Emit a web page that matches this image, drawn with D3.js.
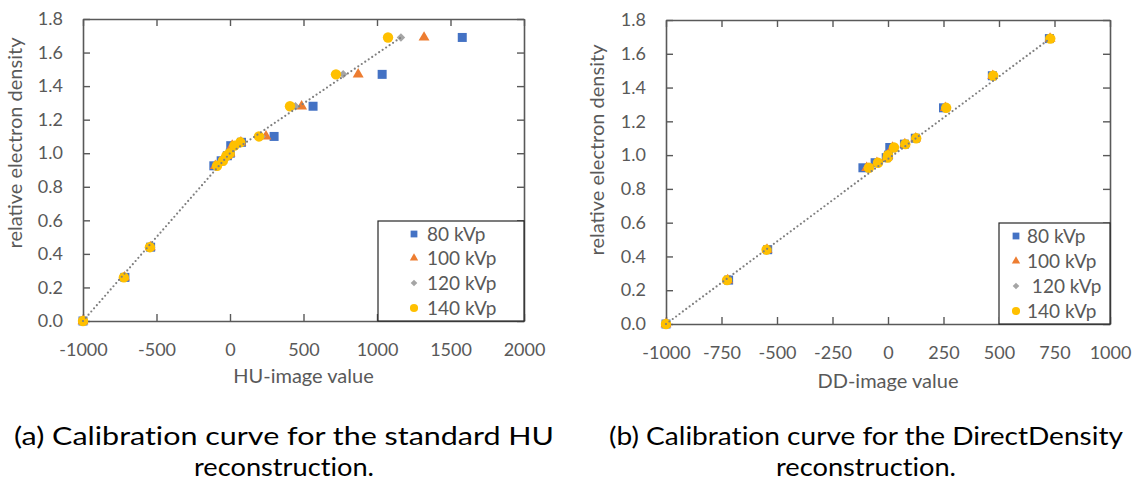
<!DOCTYPE html>
<html>
<head>
<meta charset="utf-8">
<script src="https://cdn.jsdelivr.net/npm/d3@7"></script>
<style>
  body { margin: 0; background: #fff; }
  text { font-family: Lato, "Open Sans", sans-serif; }
</style>
</head>
<body>
<div id="wrapper"></div>
<script>
// relative electron density of each phantom insert (y values, shared by both charts)
const densities = [0.0, 0.26, 0.44, 0.925, 0.955, 0.985, 1.0, 1.045, 1.065, 1.10, 1.28, 1.47, 1.69];

// HU-image values per tube voltage
const hu80 = [-1000, -715, -540, -110, -60, -18, 2, 5, 78, 300, 565, 1035, 1580];
const hu100 = [-1000, -718, -542, -100, -55, -20, 0, 15, 74, 245, 487, 872, 1320];
const hu120 = [-1000, -720, -543, -95, -52, -22, 0, 22, 72, 215, 445, 770, 1163];
const hu140 = [-1000, -722, -545, -88, -48, -24, -2, 30, 70, 197, 408, 721, 1075];

// DD-image values per tube voltage
const dd80 = [-1000, -718, -542, -113, -58, -8, 2, 8, 74, 123, 250, 470, 727];
const dd100 = [-1000, -722, -545, -96, -50, -5, 0, 20, 76, 125, 258, 472, 730];
const dd120 = [-1000, -724, -546, -92, -48, -3, 0, 24, 77, 126, 260, 473, 730];
const dd140 = [-1000, -725, -547, -86, -45, -2, 0, 27, 78, 127, 262, 474, 731];

// dotted calibration lines
const huTrendX = [-1000, 0, 1163];
const huTrendY = [0, 1.0, 1.69];
const ddTrendX = [-1000, 730];
const ddTrendY = [0, 1.69];

const seriesNamesHU = ["80 kVp", "100 kVp", "120 kVp", "140 kVp"];
const seriesNamesDD = ["80 kVp", "100 kVp", " 120 kVp", "140 kVp"];
const colors = ["#4472C4", "#ED7D31", "#A5A5A5", "#FFC000"];

const yTicks = [0, 0.2, 0.4, 0.6, 0.8, 1.0, 1.2, 1.4, 1.6, 1.8];
const huTicks = [-1000, -500, 0, 500, 1000, 1500, 2000];
const ddTicks = [-1000, -750, -500, -250, 0, 250, 500, 750, 1000];

const captionA = ["(a) Calibration curve for the standard HU", "reconstruction."];
const captionB = ["(b) Calibration curve for the DirectDensity", "reconstruction."];

const width = 1137;
const height = 484;
const axisColor = "#595959";

const svg = d3
  .select("#wrapper")
  .append("svg")
  .attr("width", width)
  .attr("height", height)
  .style("display", "block");

svg.append("rect").attr("width", width).attr("height", height).attr("fill", "#fff");

// marker shapes: square, triangle, diamond, circle
function markerPath(i, big) {
  const sizes = big ? [81, 52, 36, 85] : [46, 30, 22, 52];
  const types = [d3.symbolSquare, d3.symbolTriangle, d3.symbolSquare, d3.symbolCircle];
  return d3.symbol().type(types[i]).size(sizes[i])();
}
function markerTransform(i, x, y) {
  return i === 2 ? `translate(${x},${y}) rotate(45)` : `translate(${x},${y})`;
}

function drawChart(cfg) {
  const g = svg.append("g");
  const xScale = d3.scaleLinear().domain(cfg.xDomain).range([cfg.left, cfg.right]);
  const yScale = d3.scaleLinear().domain([0, 1.8]).range([cfg.bottom, cfg.top]);

  // frame with inside ticks on all four sides
  const xAxis = g
    .append("g")
    .attr("transform", `translate(0,${cfg.bottom})`)
    .call(
      d3.axisBottom(xScale).tickValues(cfg.xTicks).tickSizeInner(-7).tickSizeOuter(0)
        .tickPadding(22).tickFormat((d) => String(d))
    );
  const xTop = g
    .append("g")
    .attr("transform", `translate(0,${cfg.top})`)
    .call(d3.axisTop(xScale).tickValues(cfg.xTicks).tickSizeInner(-7).tickSizeOuter(0).tickFormat(""));
  const yAxis = g
    .append("g")
    .attr("transform", `translate(${cfg.left},0)`)
    .call(
      d3.axisLeft(yScale).tickValues(yTicks).tickSizeInner(-7).tickSizeOuter(0)
        .tickPadding(20).tickFormat(d3.format(".1f"))
    );
  const yRight = g
    .append("g")
    .attr("transform", `translate(${cfg.right},0)`)
    .call(d3.axisRight(yScale).tickValues(yTicks).tickSizeInner(-7).tickSizeOuter(0).tickFormat(""));

  [xAxis, xTop, yAxis, yRight].forEach((a) => {
    a.select(".domain").attr("stroke", axisColor).attr("stroke-width", 1.6);
    a.selectAll(".tick line").attr("stroke", axisColor).attr("stroke-width", 1.4);
    a.selectAll(".tick text")
      .attr("fill", axisColor)
      .style("font-size", "18px")
      .style("font-family", "Lato, sans-serif");
  });

  // points, one series after another so 140 kVp ends on top
  cfg.series.forEach((xs, i) => {
    g.append("g")
      .selectAll("path")
      .data(densities)
      .join("path")
      .attr("d", markerPath(i, true))
      .attr("transform", (d, j) => markerTransform(i, xScale(xs[j]), yScale(d)))
      .attr("fill", colors[i]);
  });

  // dotted calibration line
  const lineGenerator = d3
    .line()
    .x((d) => xScale(d[0]))
    .y((d) => yScale(d[1]));
  g.append("path")
    .attr("d", lineGenerator(cfg.trendX.map((x, j) => [x, cfg.trendY[j]])))
    .attr("fill", "none")
    .attr("stroke", "#7F7F7F")
    .attr("stroke-width", 2.2)
    .attr("stroke-linecap", "round")
    .attr("stroke-dasharray", "0,4.2");

  // axis titles
  g.append("text")
    .attr("x", (cfg.left + cfg.right) / 2)
    .attr("y", cfg.xTitleY)
    .attr("text-anchor", "middle")
    .attr("fill", axisColor)
    .style("font-size", "20px")
    .text(cfg.xTitle);
  g.append("text")
    .attr("transform", `translate(${cfg.yTitleX},${cfg.yTitleCenter}) rotate(-90)`)
    .attr("text-anchor", "middle")
    .attr("fill", axisColor)
    .style("font-size", "20px")
    .text("relative electron density");

  // legend
  const lg = cfg.legend;
  g.append("rect")
    .attr("x", lg.x0)
    .attr("y", lg.y0)
    .attr("width", lg.x1 - lg.x0)
    .attr("height", lg.y1 - lg.y0)
    .attr("fill", "#fff")
    .attr("stroke", "#262626")
    .attr("stroke-width", 1.2);
  cfg.names.forEach((name, i) => {
    const cy = lg.rows[i];
    g.append("path")
      .attr("d", markerPath(i, false))
      .attr("transform", markerTransform(i, lg.markerX, cy))
      .attr("fill", colors[i]);
    g.append("text")
      .attr("x", lg.textX)
      .attr("y", cy)
      .attr("dy", "0.36em")
      .attr("fill", axisColor)
      .style("font-size", "19px")
      .style("white-space", "pre")
      .text(name);
  });

  // caption, first line stretched to the width it has in the figure
  cfg.caption.forEach((line, i) => {
    const t = svg
      .append("text")
      .attr("x", cfg.captionX)
      .attr("y", 445 + i * 31)
      .attr("text-anchor", "middle")
      .attr("fill", "#000")
      .style("font-size", "25px")
      .style("font-variant-ligatures", "none")
      .text(line);
    if (i === 0) t.attr("textLength", cfg.captionWidth).attr("lengthAdjust", "spacingAndGlyphs");
    else t.attr("textLength", 180).attr("lengthAdjust", "spacingAndGlyphs");
  });
}

drawChart({
  xDomain: [-1000, 2000],
  xTicks: huTicks,
  left: 83,
  right: 524,
  top: 19,
  bottom: 321,
  series: [hu80, hu100, hu120, hu140],
  trendX: huTrendX,
  trendY: huTrendY,
  xTitle: "HU-image value",
  xTitleY: 383,
  yTitleX: 22,
  yTitleCenter: 143,
  names: seriesNamesHU,
  legend: { x0: 378, x1: 524, y0: 221, y1: 321, markerX: 414, textX: 427, rows: [234, 258, 283, 308] },
  caption: captionA,
  captionX: 284,
  captionWidth: 540,
});

drawChart({
  xDomain: [-1000, 1000],
  xTicks: ddTicks,
  left: 666,
  right: 1110,
  top: 20,
  bottom: 324,
  series: [dd80, dd100, dd120, dd140],
  trendX: ddTrendX,
  trendY: ddTrendY,
  xTitle: "DD-image value",
  xTitleY: 388,
  yTitleX: 604,
  yTitleCenter: 150,
  names: seriesNamesDD,
  legend: { x0: 999, x1: 1110, y0: 223, y1: 324, markerX: 1016, textX: 1027, rows: [236, 261, 286, 311] },
  caption: captionB,
  captionX: 866,
  captionWidth: 514,
});
</script>
</body>
</html>
